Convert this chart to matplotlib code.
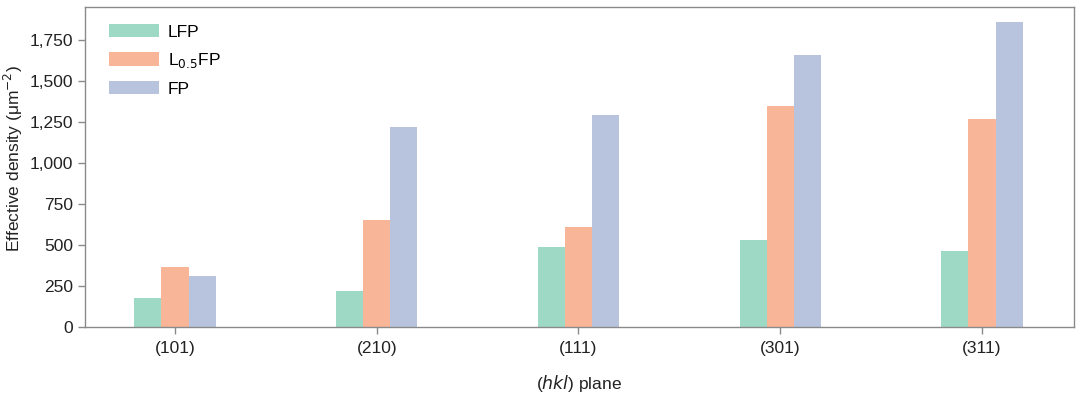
import numpy as np
import matplotlib.pyplot as plt
from matplotlib.ticker import FuncFormatter

plt.rcParams["font.family"] = ["Liberation Sans", "DejaVu Sans"]

planes = ["(101)", "(210)", "(111)", "(301)", "(311)"]
lfp = [179, 220, 488, 530, 461]
l05fp = [368, 651, 610, 1348, 1268]
fp = [313, 1220, 1293, 1659, 1858]

series = [lfp, l05fp, fp]
labels = ["LFP", "L$_{0.5}$FP", "FP"]
colors = ["#9dd9c5", "#f9b598", "#b8c3de"]

fig = plt.figure(figsize=(10.8, 3.94), dpi=100)
ax = fig.add_axes([85 / 1080, 1 - 327 / 394, 989 / 1080, 320 / 394])

x = np.arange(len(planes))
w = 0.134
for i, (vals, lab, c) in enumerate(zip(series, labels, colors)):
    ax.bar(x + (i - 1) * w, vals, width=w, color=c, label=lab)

ax.set_xlim(-0.446, 4.456)
ax.set_ylim(0, 1950)
ax.set_yticks([0, 250, 500, 750, 1000, 1250, 1500, 1750])
ax.yaxis.set_major_formatter(FuncFormatter(lambda v, p: f"{int(v):,}"))
ax.set_xticks(x)
ax.set_xticklabels(planes)

for side in ("top", "bottom", "left", "right"):
    ax.spines[side].set_color("#8a8a8a")
    ax.spines[side].set_linewidth(1.0)
ax.tick_params(colors="#8a8a8a", labelcolor="#222222", labelsize=12.5, length=5, width=1.0)
ax.tick_params(axis="x", pad=5)

ax.set_ylabel("Effective density (μm$^{-2}$)", fontsize=12.5, color="#222222")
ax.yaxis.set_label_coords(-0.061, 0.528)
ax.set_xlabel("($hkl$) plane", fontsize=12.5, color="#222222", labelpad=12)

ax.legend(loc="upper left", frameon=False, fontsize=12.5, handlelength=2.9, handleheight=0.8,
          labelspacing=0.65, handletextpad=0.5, borderaxespad=0.3, bbox_to_anchor=(0.012, 0.985))

fig.savefig("out.png", dpi=100)
